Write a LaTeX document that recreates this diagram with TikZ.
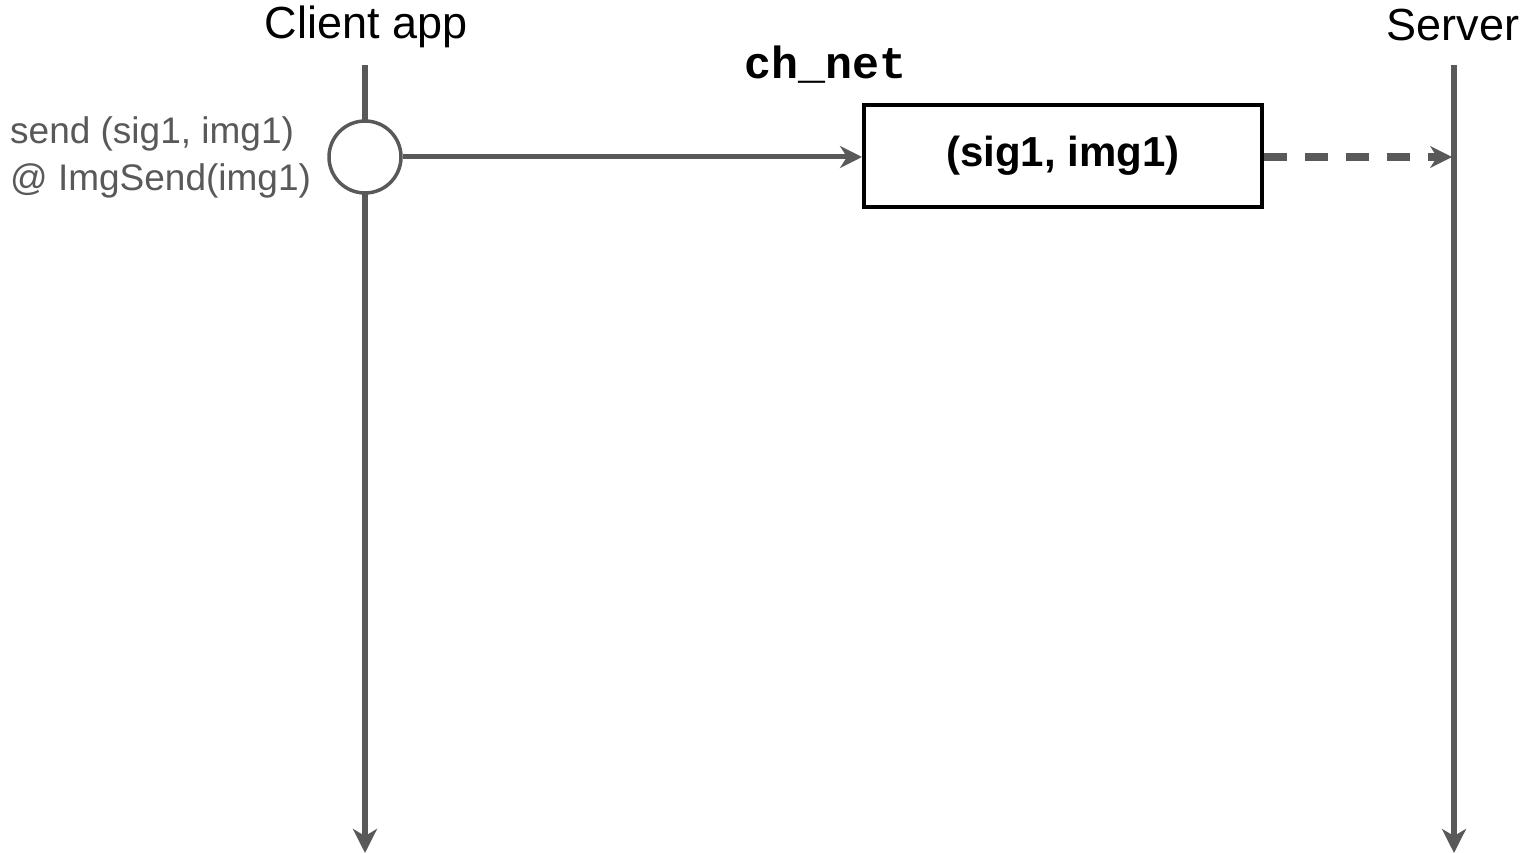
\documentclass[tikz,border=0pt]{standalone}
\usepackage{fontspec}
\setmainfont{Liberation Sans}
\newfontfamily\codefont{Liberation Mono}
\usetikzlibrary{arrows.meta}
\definecolor{lg}{HTML}{595959}
\tikzset{
  life/.style={draw=lg, line width=5.5pt, -{Stealth[length=24pt,width=24pt,inset=7pt]}},
  msg/.style={draw=lg, line width=5pt, -{Stealth[length=22pt,width=22pt,inset=7pt]}},
  dmsg/.style={draw=lg, line width=8pt, dash pattern=on 23pt off 18pt, -{Stealth[length=22pt,width=22pt,inset=7pt,line width=0pt]}},
  title/.style={font=\fontsize{45}{54}\selectfont, text=black, inner sep=0pt},
  evt/.style={circle, draw=lg, fill=white, line width=3.5pt, minimum size=72pt, inner sep=0pt},
  chan/.style={draw=black, line width=4pt, minimum width=398pt, minimum height=102pt, inner sep=0pt, font=\bfseries\fontsize{42}{50}\selectfont},
  note/.style={align=left, text=lg, font=\fontsize{37}{47}\selectfont, inner sep=0pt, anchor=west}
}
\begin{document}
\begin{tikzpicture}[x=1pt,y=-1pt]
\useasboundingbox (0,0) rectangle (1524,853);
\node[title] (client) at (366,27) {Client app};
\node[title] (server) at (1453,25) {Server};
\coordinate (ctop) at (365,65);
\coordinate (cbot) at (365,853);
\coordinate (stop) at (1454,65);
\coordinate (sbot) at (1454,853);
\draw[life] (ctop) -- (cbot);
\draw[life] (stop) -- (sbot);
\node[evt] (e1) at (365,157) {};
\node[chan] (box) at (1063,156) {(sig1, img1)};
\node[font=\codefont\bfseries\fontsize{45}{54}\selectfont, inner sep=0pt] (chname) at (826,65) {ch\_net};
\node[note] (lbl) at (10,157) {send (sig1, img1)\\@ ImgSend(img1)};
\coordinate (sin) at (1452,157);
\draw[msg] (e1.east) -- (box.west |- e1.east);
\draw[dmsg] (box.east |- sin) -- (sin);
\end{tikzpicture}
\end{document}
